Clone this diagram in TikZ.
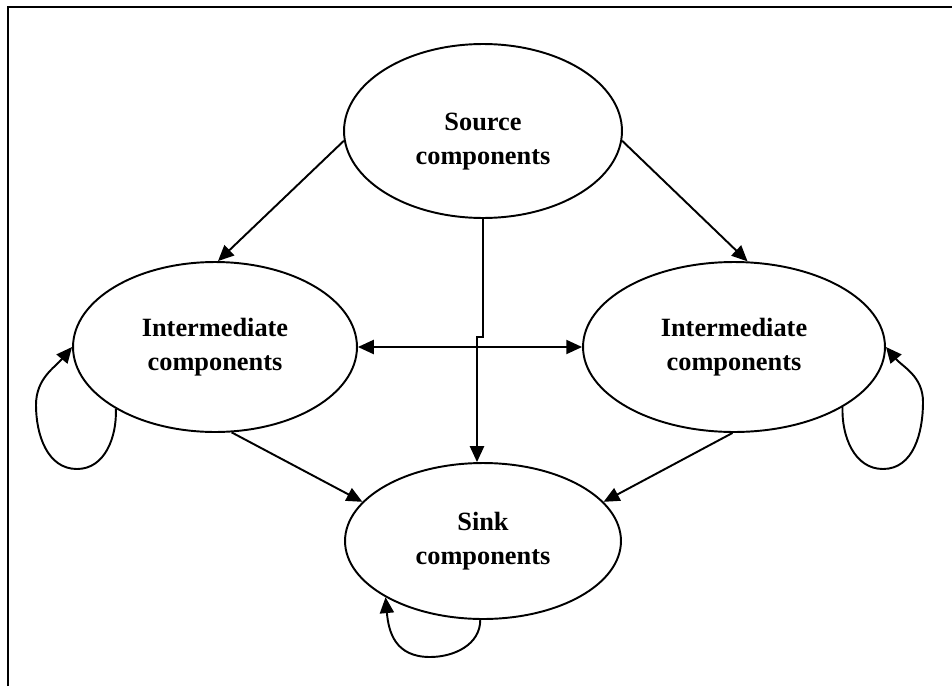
\documentclass[tikz,border=0pt]{standalone}
\usepackage{fontspec}
\setmainfont{Liberation Serif}
\usetikzlibrary{shapes.geometric,arrows.meta}
\begin{document}
\begin{tikzpicture}[x=0.02cm,y=0.02cm,line width=1.1pt,>={Triangle[length=9pt,width=8pt]}]
		\tikzstyle{comp}=[draw,ellipse,inner sep=0pt,align=center,font=\bfseries\fontsize{15}{19.5}\selectfont]
		\useasboundingbox (0,0) rectangle (952,-686);
		\draw (8,-686) -- (8,-7) -- (952,-7);
		\node[comp,minimum width=5.56cm,minimum height=3.48cm](src)at(483,-131){\rule{0pt}{22pt}Source\\components};
		\node[comp,minimum width=5.68cm,minimum height=3.4cm](lint)at(215,-347){Intermediate\\components};
		\node[comp,minimum width=6.04cm,minimum height=3.4cm](rint)at(734,-347){Intermediate\\components};
		\node[comp,minimum width=5.52cm,minimum height=3.12cm](snk)at(483,-541){Sink\\components};
		\coordinate (j1) at (483,-337);
		\coordinate (j2) at (477,-337);
		\coordinate (lbot) at (77,-469);
		\coordinate (lside) at (36,-405);
		\coordinate (rbot) at (883,-469);
		\coordinate (rside) at (923,-402);
		\coordinate (sbot) at (430,-657);
		\path[->] (src.184) edge (lint.88)
		(src.356) edge (rint.81)
		(lint.281) edge (snk.162)
		(rint.269) edge (snk.18.6);
		\draw[<->] (lint.east) -- (rint.west);
		\draw[->] (src.south) -- (j1) -- (j2) -- (j2 |- snk.north);
		\draw[->] (lint.212) to[out=-88,in=0] (lbot) to[out=180,in=-90] (lside) to[out=90,in=-130] (lint.west);
		\draw[->] (rint.331) to[out=-92,in=180] (rbot) to[out=0,in=-90] (rside) to[out=90,in=-50] (rint.east);
		\draw[->] (snk.268) to[out=-90,in=0] (sbot) to[out=180,in=-85,looseness=1.2] (snk.210);
		\end{tikzpicture}
\end{document}
